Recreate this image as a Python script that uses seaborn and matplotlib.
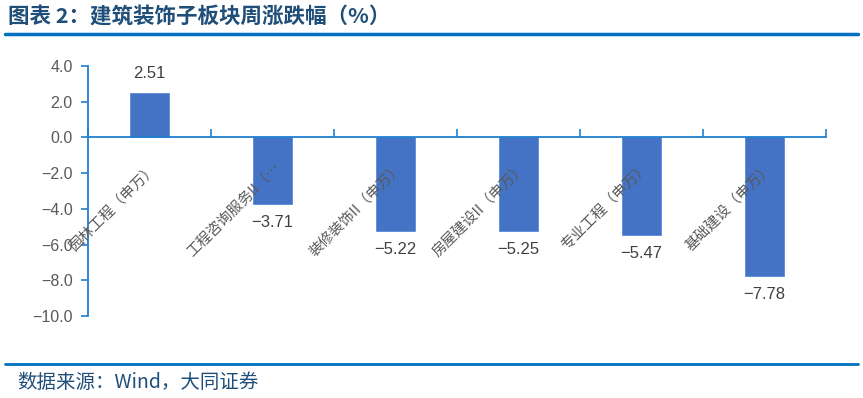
import matplotlib
matplotlib.use("Agg")
import matplotlib.pyplot as plt
import seaborn as sns
import pandas as pd
import numpy as np

categories = ["园林工程（申万）", "工程咨询服务II（…", "装修装饰II（申万）", "房屋建设II（申万）", "专业工程（申万）", "基础建设（申万）"]
values = [2.51, -3.71, -5.22, -5.25, -5.47, -7.78]
value_labels = ["2.51", "-3.71", "-5.22", "-5.25", "-5.47", "-7.78"]
yticks = [4.0, 2.0, 0.0, -2.0, -4.0, -6.0, -8.0, -10.0]
title = "图表 2：建筑装饰子板块周涨跌幅（%）"
source = "数据来源：Wind，大同证券"

sns.set_theme(style="white")
plt.rcParams['font.family'] = ['Liberation Sans', 'Noto Sans CJK SC', 'DejaVu Sans']
plt.rcParams['axes.unicode_minus'] = False

W, H = 863, 398
fig = plt.figure(figsize=(W / 100, H / 100), dpi=100)
ax = fig.add_axes([88 / W, 1 - 316 / H, (826 - 88) / W, (316 - 66) / H])

df = pd.DataFrame({"cat": categories, "val": values})
sns.barplot(data=df, x="cat", y="val", ax=ax, color="#4472C4", width=0.32,
            saturation=1, edgecolor="#5B8BD8", linewidth=0.6)

axis_blue = "#1F7FD0"
ax.set_ylim(-10, 4)
ax.set_xlim(-0.5, len(categories) - 0.5)
ax.set_yticks(yticks)
ax.set_yticklabels([f"{t:.1f}".replace("-", "−") for t in yticks], color="#595959",
                   fontsize=11.5, family=['Liberation Sans', 'DejaVu Sans'])
ax.tick_params(axis='y', direction='out', length=5, width=1.2, color=axis_blue, pad=6, left=True)

ax.spines['bottom'].set_position(('data', 0))
for s in ['top', 'right']:
    ax.spines[s].set_visible(False)
for s in ['left', 'bottom']:
    ax.spines[s].set_color(axis_blue)
    ax.spines[s].set_linewidth(1.3)

bounds = np.arange(len(categories) + 1) - 0.5
ax.set_xticks(bounds)
ax.set_xticklabels([])
ax.tick_params(axis='x', direction='in', length=6, width=1.2, color=axis_blue, bottom=True)
ax.set_xlabel("")
ax.set_ylabel("")
ax.grid(False)

for i, (c, v, lab) in enumerate(zip(categories, values, value_labels)):
    ax.annotate(c, xy=(i, 0), xytext=(4, -20), textcoords='offset points',
                rotation=45, rotation_mode='anchor', ha='right', va='center',
                fontsize=10.5, color="#595959", family=['Noto Sans CJK SC', 'DejaVu Sans'])
    if v >= 0:
        ax.annotate(lab, xy=(i, v), xytext=(0, 8), textcoords='offset points',
                    ha='center', va='bottom', fontsize=12, color="#404040")
    else:
        ax.annotate(lab.replace("-", "−"), xy=(i, v), xytext=(0, -8), textcoords='offset points',
                    ha='center', va='top', fontsize=12, color="#404040")

fig.text(8 / W, 1 - 17 / H, title, fontsize=15.5, fontweight='bold', color="#1F4E79",
         va='center', ha='left', family=['Noto Sans CJK SC', 'DejaVu Sans'])
fig.add_artist(plt.Line2D([5 / W, 858 / W], [1 - 34 / H, 1 - 34 / H], color="#0070C0", linewidth=2.5))
fig.add_artist(plt.Line2D([5 / W, 858 / W], [1 - 364 / H, 1 - 364 / H], color="#0070C0", linewidth=2))
fig.text(17 / W, 1 - 382 / H, source, fontsize=14, color="#1F4E79",
         va='center', ha='left', family=['Noto Sans CJK SC', 'DejaVu Sans'])

fig.savefig("out.png", dpi=100)
